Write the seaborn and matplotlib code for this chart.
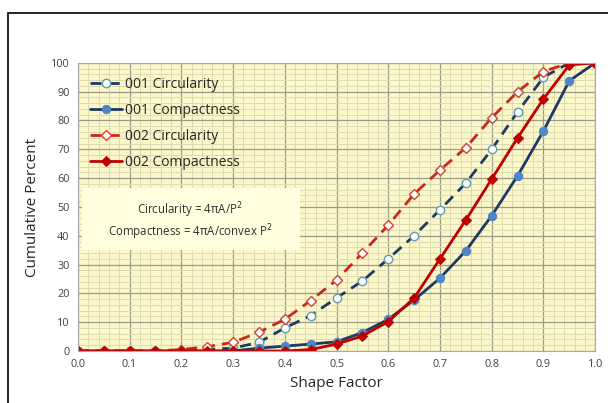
import numpy as np
import pandas as pd
import matplotlib
matplotlib.use("Agg")
import matplotlib.pyplot as plt
import seaborn as sns
from matplotlib.patches import Rectangle
from matplotlib.ticker import MultipleLocator

shape_factor = [0.0, 0.05, 0.1, 0.15, 0.2, 0.25, 0.3, 0.35, 0.4, 0.45, 0.5,
                0.55, 0.6, 0.65, 0.7, 0.75, 0.8, 0.85, 0.9, 0.95, 1.0]
circ_001 = [0, 0, 0, 0, 0, 0.5, 1, 3, 8, 12.3, 18.4, 24.3, 32, 40, 49, 58.3, 70, 83, 95, 100, 100]
comp_001 = [0, 0, 0, 0, 0, 0, 0, 1, 1.7, 2.4, 3.2, 6.4, 11, 17.7, 25.3, 34.8, 47, 60.8, 76.4, 93.8, 100]
circ_002 = [0, 0, 0, 0, 0.5, 1.5, 3, 6.5, 11, 17.5, 24.6, 34, 43.7, 54.5, 62.8, 70.6, 81, 90, 97, 100, 100]
comp_002 = [0, 0, 0, 0, 0, 0, 0, 0, 0, 0.5, 2.4, 5.2, 10.2, 18.4, 32, 45.5, 59.7, 74, 87.5, 99.3, 100]

series = {
    "001 Circularity": circ_001,
    "001 Compactness": comp_001,
    "002 Circularity": circ_002,
    "002 Compactness": comp_002,
}
df = pd.concat([pd.DataFrame({"x": shape_factor, "y": v, "series": k}) for k, v in series.items()])

styles = {
    "001 Circularity": dict(color="#1F3864", linestyle=(0, (4, 2.5)), marker="o", markersize=6,
                            markerfacecolor="white", markeredgecolor="#5E9CB5", markeredgewidth=1.0),
    "001 Compactness": dict(color="#1F3864", linestyle="-", marker="o", markersize=6,
                            markerfacecolor="#4F86C6", markeredgecolor="#4F86C6"),
    "002 Circularity": dict(color="#C8281E", linestyle=(0, (4, 2.5)), marker="D", markersize=5,
                            markerfacecolor="white", markeredgecolor="#D0442C", markeredgewidth=1.0),
    "002 Compactness": dict(color="#C00000", linestyle="-", marker="D", markersize=5.5,
                            markerfacecolor="#C00000", markeredgecolor="#C00000"),
}

sns.set_style("white")
plt.rcParams['font.family'] = ['Open Sans', 'DejaVu Sans']

fig = plt.figure(figsize=(6.08, 4.03), dpi=100)
ax = fig.add_axes([0.128, 0.129, 0.851, 0.715])
ax.set_facecolor("#FBF7C9")

for name in series:
    sub = df[df["series"] == name]
    sns.lineplot(data=sub, x="x", y="y", ax=ax, label=name, linewidth=2.0, **styles[name])

ax.set_xlim(0, 1.0)
ax.set_ylim(0, 100)
ax.xaxis.set_major_locator(MultipleLocator(0.1))
ax.xaxis.set_minor_locator(MultipleLocator(0.02))
ax.yaxis.set_major_locator(MultipleLocator(10))
ax.yaxis.set_minor_locator(MultipleLocator(2))
ax.grid(which="major", color="#9C9C8C", linewidth=0.9)
ax.grid(which="minor", color="#DEDAB4", linewidth=0.7)
ax.set_axisbelow(True)
ax.xaxis.set_major_formatter(matplotlib.ticker.FormatStrFormatter("%.1f"))
ax.tick_params(which="both", length=0, labelsize=7.8, labelcolor="#404040", pad=6)
for s in ax.spines.values():
    s.set_color("#A8A8A0")
    s.set_linewidth(0.8)

ax.set_xlabel("Shape Factor", fontsize=11, labelpad=4)
ax.set_ylabel("Cumulative Percent", fontsize=11, labelpad=8)

leg = ax.legend(loc="upper left", bbox_to_anchor=(0.0, 0.995), frameon=False, fontsize=10,
                handlelength=2.3, handletextpad=0.2, labelspacing=0.8)

# formula box
ax.add_patch(Rectangle((0.008, 35), 0.422, 21.6, facecolor="#FFFFE0", edgecolor="none", zorder=2.5))
ax.text(0.217, 49, "Circularity = 4\u03c0A/P$^2$", ha="center", va="center",
        fontsize=8.3, color="#303030", zorder=3)
ax.text(0.217, 41.3, "Compactness = 4\u03c0A/convex P$^2$", ha="center", va="center",
        fontsize=8.3, color="#303030", zorder=3)

fig.add_artist(Rectangle((8 / 608, -0.05), 1.2, 1 - 13 / 403 + 0.05, transform=fig.transFigure,
                         fill=False, edgecolor="black", linewidth=1.2))

fig.savefig("out.png", dpi=100)
